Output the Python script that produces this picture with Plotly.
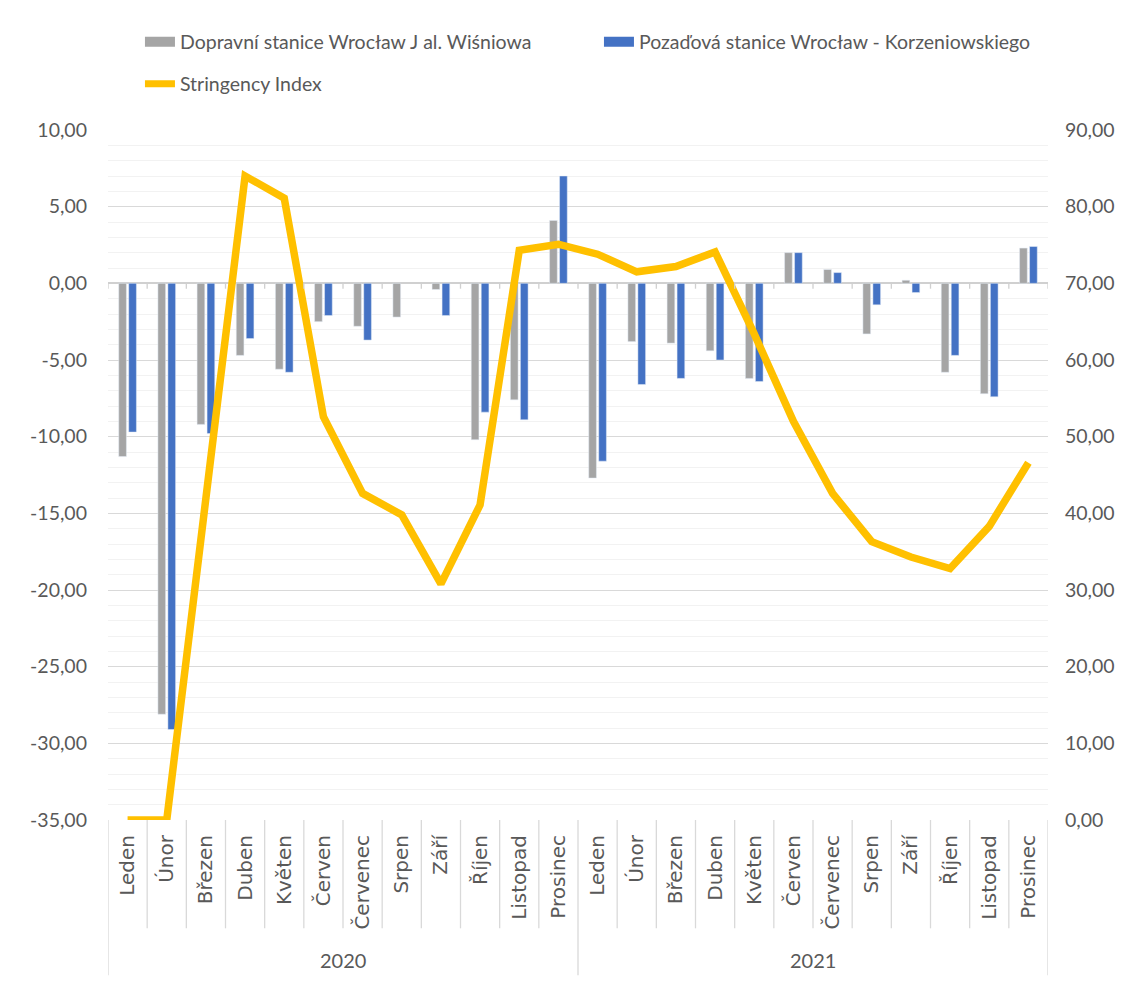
import plotly.graph_objects as go

# Data
months = ["Leden", "Únor", "Březen", "Duben", "Květen", "Červen", "Červenec",
          "Srpen", "Září", "Říjen", "Listopad", "Prosinec"]
years = ["2020", "2021"]
month_labels = months + months

doprava = [-11.3, -28.1, -9.2, -4.7, -5.6, -2.5, -2.8, -2.2, -0.4, -10.2, -7.6, 4.1,
           -12.7, -3.8, -3.9, -4.4, -6.2, 2.0, 0.9, -3.3, 0.2, -5.8, -7.2, 2.3]
pozadi = [-9.7, -29.1, -9.8, -3.6, -5.8, -2.1, -3.7, None, -2.1, -8.4, -8.9, 7.0,
          -11.6, -6.6, -6.2, -5.0, -6.4, 2.0, 0.7, -1.4, -0.6, -4.7, -7.4, 2.4]
stringency = [0.0, 0.0, 42.0, 84.0, 81.1, 52.6, 42.6, 39.8, 30.8, 41.1, 74.3, 75.1,
              73.8, 71.5, 72.2, 74.1, 63.4, 52.0, 42.6, 36.3, 34.3, 32.8, 38.3, 46.6]

left_ticks = [-35, -30, -25, -20, -15, -10, -5, 0, 5, 10]
right_ticks = [0, 10, 20, 30, 40, 50, 60, 70, 80, 90]

GRAY = "#A5A5A5"
BLUE = "#4472C4"
GOLD = "#FFC000"
TXT = "#595959"
FONT = "Lato, Calibri, sans-serif"


def fmt(v):
    return f"{v:.2f}".replace(".", ",")


x = list(range(len(month_labels)))

fig = go.Figure()

fig.add_bar(x=x, y=doprava, marker_color=GRAY, showlegend=False,
            name="Dopravní stanice Wrocław J al. Wiśniowa")
fig.add_bar(x=x, y=pozadi, marker_color=BLUE, showlegend=False,
            name="Pozaďová stanice Wrocław - Korzeniowskiego")
fig.add_scatter(x=x, y=stringency, yaxis="y2", mode="lines",
                line=dict(color=GOLD, width=7.5), showlegend=False,
                name="Stringency Index")

# legend entries (wide swatches like the original)
fig.add_scatter(x=[None], y=[None], mode="lines", line=dict(color=GRAY, width=12),
                name="Dopravní stanice Wrocław J al. Wiśniowa", legend="legend")
fig.add_scatter(x=[None], y=[None], mode="lines", line=dict(color=BLUE, width=12),
                name="Pozaďová stanice Wrocław - Korzeniowskiego", legend="legend")
fig.add_scatter(x=[None], y=[None], mode="lines", line=dict(color=GOLD, width=7),
                name="Stringency Index", legend="legend2")

# category separators below the axis
shapes = []
for k in range(len(month_labels) + 1):
    bottom = -0.225 if k % 12 == 0 else -0.157
    shapes.append(dict(type="line", xref="x", yref="paper", x0=k - 0.5, x1=k - 0.5,
                       y0=0, y1=bottom, line=dict(color="#D9D9D9", width=1.3)))
    # small tick marks on the zero line
    shapes.append(dict(type="line", xref="x", yref="y", x0=k - 0.5, x1=k - 0.5,
                       y0=0, y1=-0.35, line=dict(color="#D0D0D0", width=1.3)))

annotations = []
for i, yr in enumerate(years):
    annotations.append(dict(x=i * 12 + 5.5, y=-0.203, xref="x", yref="paper",
                            yanchor="middle", text=yr, showarrow=False,
                            font=dict(family=FONT, size=20, color=TXT)))

# the page body adds an 8px offset, so margins are shifted to compensate
fig.update_layout(
    width=1137, height=982,
    margin=dict(l=100, r=97, t=122, b=170, autoexpand=False),
    paper_bgcolor="white", plot_bgcolor="white",
    barmode="group", bargap=0.49, bargroupgap=0.23,
    font=dict(family=FONT, size=19, color=TXT),
    shapes=shapes, annotations=annotations,
    xaxis=dict(range=[-0.5, 23.5], tickmode="array", tickvals=x, ticktext=month_labels,
               tickangle=-90, showgrid=False, zeroline=False, showline=False, ticks="",
               ticklabelstandoff=10, automargin=False,
               tickfont=dict(family="DejaVu Sans, sans-serif", size=20, color=TXT)),
    yaxis=dict(range=[-35, 10], tickmode="array", tickvals=left_ticks,
               ticktext=[fmt(v) for v in left_ticks], automargin=False,
               showgrid=True, gridcolor="#D9D9D9", gridwidth=1.3,
               zeroline=True, zerolinecolor="#D0D0D0", zerolinewidth=1.5,
               minor=dict(dtick=1, showgrid=True, gridcolor="#F2F2F2", gridwidth=1.3),
               ticks="", ticklabelstandoff=20,
               tickfont=dict(family=FONT, size=19.5, color=TXT)),
    yaxis2=dict(range=[0, 90], overlaying="y", side="right", tickmode="array",
                tickvals=right_ticks, ticktext=[fmt(v) for v in right_ticks],
                automargin=False, showgrid=False, zeroline=False, ticks="",
                ticklabelstandoff=16,
                tickfont=dict(family=FONT, size=19.5, color=TXT)),
    legend=dict(orientation="h", x=0.034, xanchor="left", y=1.1275, yanchor="middle",
                entrywidth=414, font=dict(family=FONT, size=19.5, color=TXT),
                bgcolor="rgba(0,0,0,0)"),
    legend2=dict(orientation="h", x=0.034, xanchor="left", y=1.0667, yanchor="middle",
                 font=dict(family=FONT, size=19.5, color=TXT),
                 bgcolor="rgba(0,0,0,0)"),
)

fig.write_html("out.html")
